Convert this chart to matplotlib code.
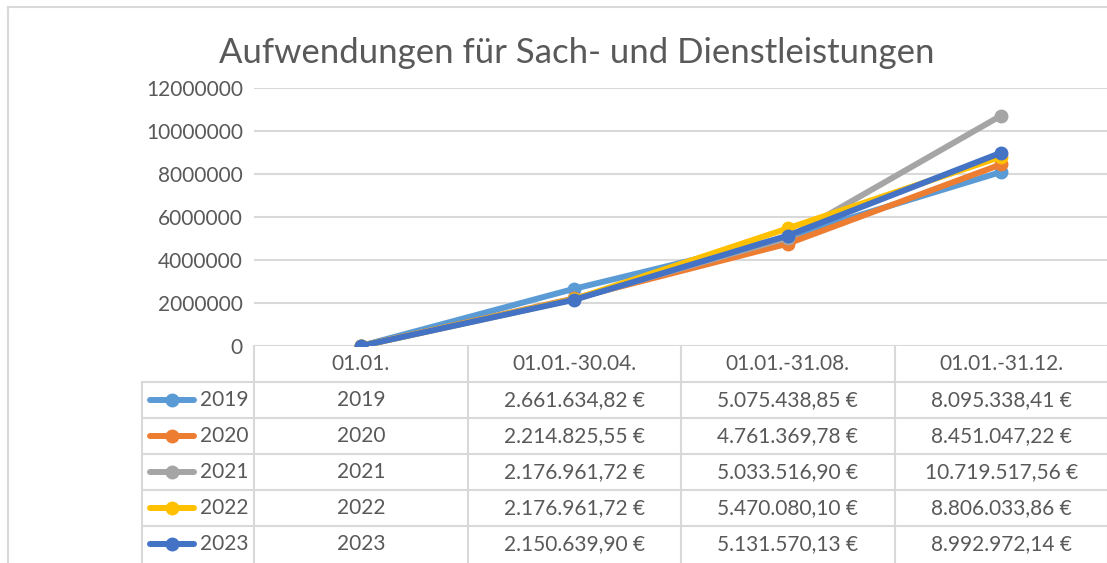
import matplotlib
matplotlib.use("Agg")
import matplotlib.pyplot as plt
from matplotlib.lines import Line2D

plt.rcParams['font.family'] = ['Lato', 'DejaVu Sans']

# data
periods = ['01.01.', '01.01.-30.04.', '01.01.-31.08.', '01.01.-31.12.']
years = ['2019', '2020', '2021', '2022', '2023']
v2019 = [2019, 2661634.82, 5075438.85, 8095338.41]
v2020 = [2020, 2214825.55, 4761369.78, 8451047.22]
v2021 = [2021, 2176961.72, 5033516.90, 10719517.56]
v2022 = [2022, 2176961.72, 5470080.10, 8806033.86]
v2023 = [2023, 2150639.90, 5131570.13, 8992972.14]
series = [v2019, v2020, v2021, v2022, v2023]
colors = ['#5B9BD5', '#ED7D31', '#A5A5A5', '#FFC000', '#4472C4']
yticks = [0, 2000000, 4000000, 6000000, 8000000, 10000000, 12000000]

W, H = 1107, 563
grid_c = '#D9D9D9'
text_c = '#595959'


def fx(x):
    return x / W


def fy(y):
    return 1 - y / H


def de_format(v):
    s = f"{v:,.2f}".replace(',', '#').replace('.', ',').replace('#', '.')
    return s + ' €'


fig = plt.figure(figsize=(W / 100, H / 100), dpi=100)

# plot area
left, right, top, bottom = 254, 1108, 88, 346
ax = fig.add_axes([fx(left), fy(bottom), fx(right - left), fy(top) - fy(bottom)])
x = list(range(len(periods)))
for vals, c in zip(series, colors):
    ax.plot(x, vals, color=c, lw=4.3, marker='o', ms=9, solid_capstyle='round')
ax.set_xlim(-0.5, len(periods) - 0.5)
ax.set_ylim(0, 12000000)
ax.set_yticks(yticks)
ax.set_yticklabels([str(t) for t in yticks], fontsize=15, color=text_c)
ax.tick_params(axis='y', length=0, pad=8)
ax.set_xticks([])
for s in ax.spines.values():
    s.set_visible(False)
ax.grid(axis='y', color=grid_c, lw=1.5)
ax.set_axisbelow(True)

# title
fig.text(fx(577), fy(53), 'Aufwendungen für Sach- und Dienstleistungen',
         ha='center', va='center', fontsize=25, color=text_c)

# outer chart border
fig.add_artist(Line2D([fx(8), fx(8)], [fy(7), 0], color=grid_c, lw=1.5))
fig.add_artist(Line2D([fx(8), 1], [fy(7), fy(7)], color=grid_c, lw=1.5))

# data table
row_h = 36
col_w = (right - left) / len(periods)
leg_left = 142
n_rows = len(years)
tbl_bottom = bottom + row_h * (n_rows + 1)
for i in range(len(periods) + 1):
    xx = left + i * col_w
    fig.add_artist(Line2D([fx(xx), fx(xx)], [fy(bottom), fy(tbl_bottom)], color=grid_c, lw=1.5))
fig.add_artist(Line2D([fx(leg_left), fx(leg_left)], [fy(bottom + row_h), fy(tbl_bottom)], color=grid_c, lw=1.5))
for r in range(1, n_rows + 1):
    yy = bottom + r * row_h
    fig.add_artist(Line2D([fx(leg_left), fx(right)], [fy(yy), fy(yy)], color=grid_c, lw=1.5))

for i, p in enumerate(periods):
    fig.text(fx(left + (i + 0.5) * col_w), fy(bottom + row_h / 2), p,
             ha='center', va='center', fontsize=15, color=text_c)

for r, (yr, vals, c) in enumerate(zip(years, series, colors)):
    yc = bottom + (r + 1.5) * row_h
    fig.add_artist(Line2D([fx(150), fx(194)], [fy(yc), fy(yc)], color=c, lw=4.3,
                          solid_capstyle='round'))
    fig.add_artist(Line2D([fx(172)], [fy(yc)], color=c, marker='o', ms=9))
    fig.text(fx(200), fy(yc), yr, ha='left', va='center', fontsize=15, color=text_c)
    for i, v in enumerate(vals):
        label = str(int(v)) if i == 0 else de_format(v)
        fig.text(fx(left + (i + 0.5) * col_w), fy(yc), label,
                 ha='center', va='center', fontsize=15, color=text_c)

fig.savefig('out.png', dpi=100)
